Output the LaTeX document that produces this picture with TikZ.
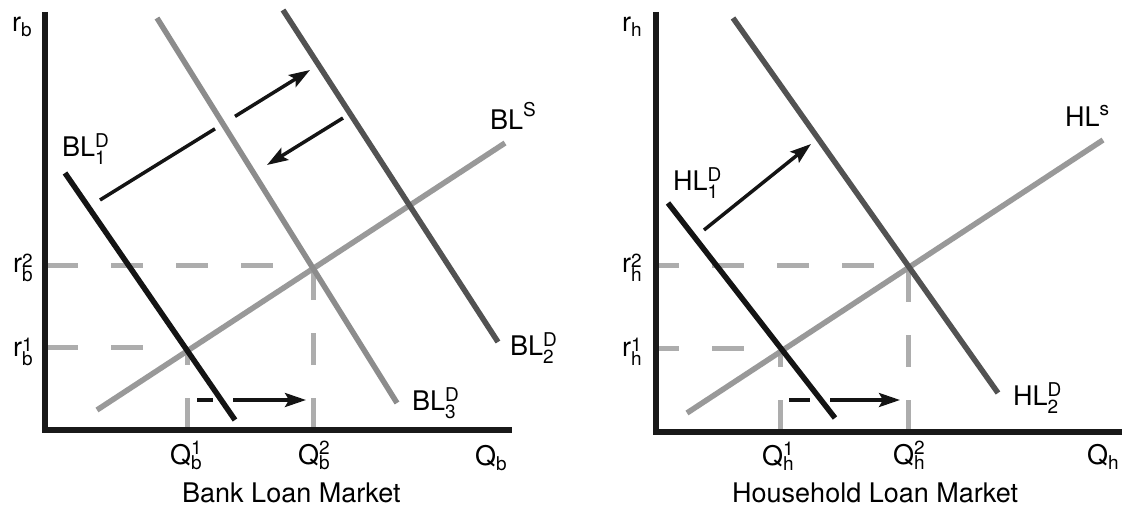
\documentclass[tikz,border=0pt]{standalone}
\usepackage{fontspec}
\setmainfont{TeX Gyre Heros}
\usetikzlibrary{arrows.meta}
\newcommand\scr[1]{{\fontsize{19}{19}\selectfont #1}}
% base, sup, sub, raise, lower
\newcommand\supsub[5]{#1\rlap{\raisebox{#4}{\scr{#2}}}\raisebox{-#5}{\scr{#3}}}
\newcommand\onlysub[3]{#1\raisebox{-#3}{\scr{#2}}}
\newcommand\onlysup[3]{#1\raisebox{#3}{\scr{#2}}}
\begin{document}
\begin{tikzpicture}[x=1pt,y=-1pt,
  axis/.style={line width=5.5pt,color=black!90},
  curve/.style={line width=5.5pt},
  dsh/.style={line width=5pt,color=black!32,dash pattern=on 32pt off 33pt},
  arr/.style={line width=3.5pt,color=black!92},
  tipped/.style={-{Stealth[length=21pt,width=14pt,inset=4pt]}},
  lab/.style={inner sep=0pt,anchor=base west,font=\fontsize{27}{30}\selectfont}]
\useasboundingbox (0,0) rectangle (1122,508);

% ================= LEFT PANEL: Bank Loan Market =================
\coordinate (LYtop) at (45,12);
\coordinate (LXend) at (512,430);
% dashed guides
\coordinate (Lr2a) at (46,265);  \coordinate (Lr2b) at (300,265);
\coordinate (Lr1a) at (46,347);  \coordinate (Lr1b) at (160,347);
\coordinate (LQ2a) at (313,430); \coordinate (LQ2b) at (313,268);
\coordinate (LQ1a) at (187,430); \coordinate (LQ1b) at (187,350);
\draw[dsh] (Lr2a) -- (Lr2b);
\draw[dsh] (Lr1a) -- (Lr1b);
\draw[dsh] (LQ2a) -- (LQ2b);
\draw[dsh] (LQ1a) -- (LQ1b);
% axes
\draw[axis] (LYtop) -- (45,432);
\draw[axis] (42.25,430) -- (LXend);
% curves
\coordinate (BLSa) at (97,410);  \coordinate (BLSb) at (505,143);
\coordinate (BL3a) at (157,18);  \coordinate (BL3b) at (397,403);
\coordinate (BL2a) at (283,10);  \coordinate (BL2b) at (498,342);
\coordinate (BL1a) at (65,173);  \coordinate (BL1b) at (235,420);
\draw[curve,color=black!40] (BLSa) -- (BLSb);
\draw[curve,color=black!45] (BL3a) -- (BL3b);
\draw[curve,color=black!68] (BL2a) -- (BL2b);
\draw[curve,color=black!92] (BL1a) -- (BL1b);
% arrows
\coordinate (LA1a) at (100,200); \coordinate (LA1b) at (215,128.8);
\coordinate (LA1c) at (235,116.4); \coordinate (LA1d) at (310,70);
\draw[arr] (LA1a) -- (LA1b);
\draw[arr,tipped] (LA1c) -- (LA1d);
\coordinate (LA2a) at (343,118); \coordinate (LA2b) at (267,165);
\draw[arr,tipped] (LA2a) -- (LA2b);
\coordinate (LA3a) at (197,400); \coordinate (LA3b) at (213,400);
\coordinate (LA3c) at (233,400); \coordinate (LA3d) at (306,400);
\draw[arr] (LA3a) -- (LA3b);
\draw[arr,tipped] (LA3c) -- (LA3d);
% labels
\node[lab] (lrb)  at (12,32)   {\onlysub{r}{b}{5pt}};
\node[lab] (lrb2) at (13,272)  {\supsub{r}{2}{b}{5pt}{9.5pt}};
\node[lab] (lrb1) at (13,356)  {\supsub{r}{1}{b}{5pt}{9.5pt}};
\node[lab] (lbl1) at (62,157)  {\supsub{BL}{D}{1}{9pt}{8pt}};
\node[lab] (lbls) at (490,130) {\onlysup{BL}{S}{13pt}};
\node[lab] (lbl2) at (510,355) {\supsub{BL}{D}{2}{9pt}{8pt}};
\node[lab] (lbl3) at (412,410) {\supsub{BL}{D}{3}{9pt}{8pt}};
\node[lab] (lq1)  at (170,464) {\supsub{Q}{1}{b}{10pt}{5pt}};
\node[lab] (lq2)  at (298,464) {\supsub{Q}{2}{b}{10pt}{5pt}};
\node[lab] (lq)   at (475,465) {\onlysub{Q}{b}{5pt}};
\node[lab] (ltitle) at (182,502) {Bank Loan Market};

% ================= RIGHT PANEL: Household Loan Market =================
\coordinate (RYtop) at (656,12);
\coordinate (RXend) at (1122,432);
\coordinate (Rr2a) at (659,265);  \coordinate (Rr2b) at (880,265);
\coordinate (Rr1a) at (659,348);  \coordinate (Rr1b) at (760,348);
\coordinate (RQ2a) at (908,432); \coordinate (RQ2b) at (908,268);
\coordinate (RQ1a) at (780,432); \coordinate (RQ1b) at (780,350);
\draw[dsh,dash phase=12pt] (Rr2a) -- (Rr2b);
\draw[dsh,dash phase=12pt] (Rr1a) -- (Rr1b);
\draw[dsh] (RQ2a) -- (RQ2b);
\draw[dsh] (RQ1a) -- (RQ1b);
\draw[axis] (RYtop) -- (656,434);
\draw[axis] (653.25,432) -- (RXend);
\coordinate (HLSa) at (687,413);  \coordinate (HLSb) at (1103,140);
\coordinate (HL2a) at (733,18);   \coordinate (HL2b) at (998,393);
\coordinate (HL1a) at (668,203);  \coordinate (HL1b) at (835,418);
\draw[curve,color=black!40] (HLSa) -- (HLSb);
\draw[curve,color=black!68] (HL2a) -- (HL2b);
\draw[curve,color=black!92] (HL1a) -- (HL1b);
\coordinate (RA1a) at (704,230); \coordinate (RA1b) at (811,144);
\draw[arr,tipped] (RA1a) -- (RA1b);
\coordinate (RA3a) at (789,400); \coordinate (RA3b) at (810,400);
\coordinate (RA3c) at (830,400); \coordinate (RA3d) at (900,400);
\draw[arr] (RA3a) -- (RA3b);
\draw[arr,tipped] (RA3c) -- (RA3d);
\node[lab] (rrh)  at (622,32)   {\onlysub{r}{h}{5pt}};
\node[lab] (rrh2) at (622,272)  {\supsub{r}{2}{h}{5pt}{9.5pt}};
\node[lab] (rrh1) at (622,356)  {\supsub{r}{1}{h}{5pt}{9.5pt}};
\node[lab] (rhl1) at (673,190)  {\supsub{HL}{D}{1}{9pt}{8pt}};
\node[lab] (rhls) at (1065,127) {\onlysup{HL}{s}{11pt}};
\node[lab] (rhl2) at (1013,405) {\supsub{HL}{D}{2}{9pt}{8pt}};
\node[lab] (rq1)  at (762,465)  {\supsub{Q}{1}{h}{10pt}{5pt}};
\node[lab] (rq2)  at (893,464)  {\supsub{Q}{2}{h}{10pt}{5pt}};
\node[lab] (rq)   at (1087,464) {\onlysub{Q}{h}{5pt}};
\node[lab] (rtitle) at (732,502) {Household Loan Market};
\end{tikzpicture}
\end{document}
